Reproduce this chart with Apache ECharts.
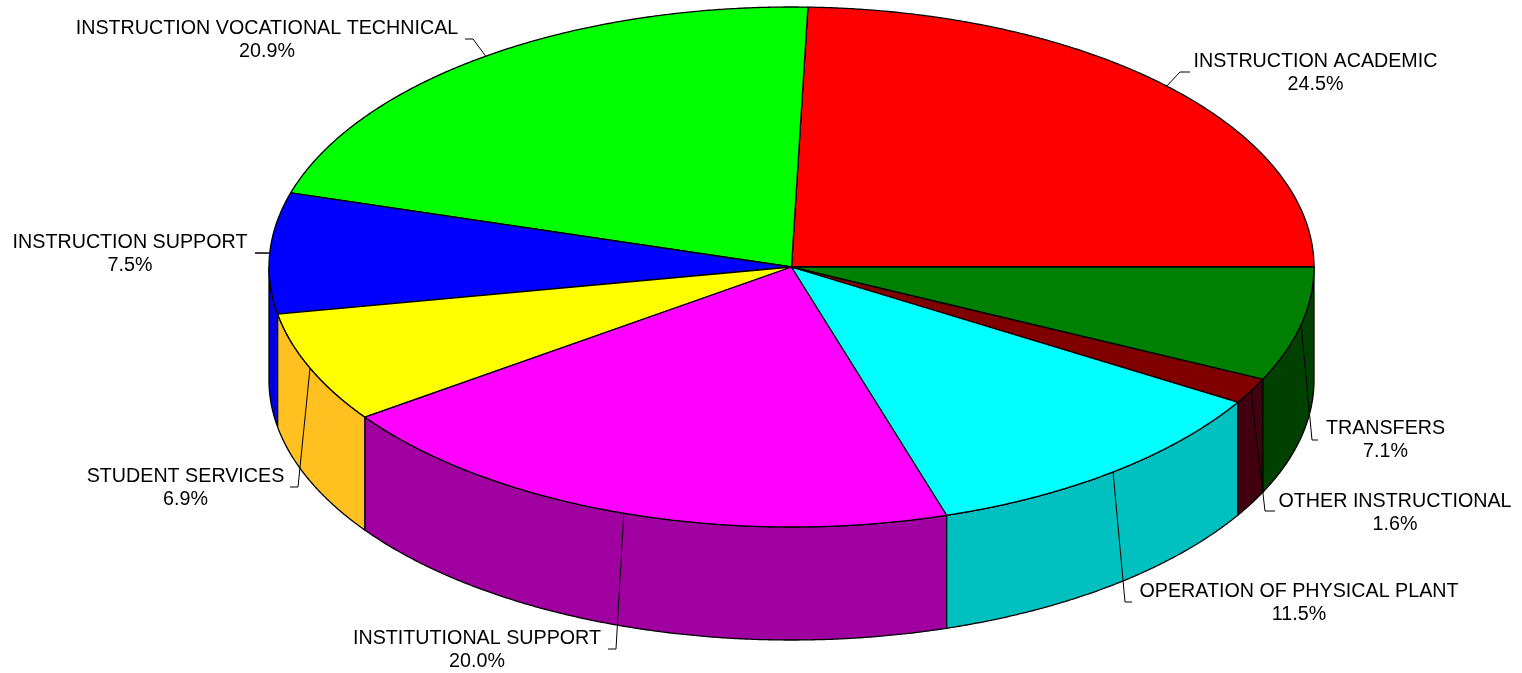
<!DOCTYPE html>
<html>
<head>
<meta charset="utf-8">
<style>html,body{margin:0;padding:0;background:#fff}#chart{width:1522px;height:673px}</style>
<script src="https://cdn.jsdelivr.net/npm/echarts@6/dist/echarts.min.js"></script>
</head>
<body>
<div id="chart"></div>
<script>
const categories = ['INSTRUCTION ACADEMIC','INSTRUCTION VOCATIONAL TECHNICAL','INSTRUCTION SUPPORT','STUDENT SERVICES','INSTITUTIONAL SUPPORT','OPERATION OF PHYSICAL PLANT','OTHER INSTRUCTIONAL','TRANSFERS'];
const percentages = [24.5,20.9,7.5,6.9,20.0,11.5,1.6,7.1];
const topColors = ['#ff0000','#00ff00','#0000ff','#ffff00','#ff00ff','#00ffff','#800000','#008000'];
const sideColors = ['#c00000','#00c000','#0000e0','#ffc020','#a000a0','#00c0c0','#400010','#004000'];
// leader elbow [x, y], leader end x, label centre [x, y]
const elbows = [[1180,72],[473,39],[255,253],[298,487],[616,649],[1125,602],[1265,511],[1312,440]];
const leaderEnds = [1190,465,269,290,608,1132,1275,1318];
const labelCentres = [[1315.5,73.5],[267,40.5],[130,254.5],[185.5,488],[477,650.5],[1299,603],[1395,513],[1385.5,440.5]];

const CX = 791.5, CY = 267, RX = 522.5, RY = 260, DEPTH = 113;
const total = percentages.reduce((a,b)=>a+b,0);
const toAngle = p => p / total * Math.PI * 2;
const pt = (t, dy) => [CX + RX*Math.cos(t), CY - RY*Math.sin(t) + (dy||0)];
function arc(a0, a1, dy){
  const n = Math.max(2, Math.ceil(Math.abs(a1-a0)/0.005));
  const out = [];
  for(let i=0;i<=n;i++) out.push(pt(a0+(a1-a0)*i/n, dy));
  return out;
}

function renderItem(params, api){
  const i = params.dataIndex;
  let before = 0;
  for(let k=0;k<i;k++) before += percentages[k];
  const value = api.value(0);
  const a0 = toAngle(before), a1 = toAngle(before+value), mid = (a0+a1)/2;
  const children = [];
  const s0 = Math.max(a0, Math.PI), s1 = Math.max(a1, Math.PI);
  if(s1 > s0){
    const up = arc(s0,s1,0), down = arc(s1,s0,DEPTH);
    children.push({type:'polygon',z2:1,shape:{points:up.concat(down)},
      style:{fill:sideColors[i],stroke:'#000',lineWidth:1.3,lineJoin:'round'}});
  }
  children.push({type:'polygon',z2:2,shape:{points:[[CX,CY]].concat(arc(a0,a1,0))},
    style:{fill:topColors[i],stroke:'#000',lineWidth:1.3,lineJoin:'round'}});
  const e = elbows[i];
  children.push({type:'polyline',z2:3,shape:{points:[pt(mid,0),e,[leaderEnds[i],e[1]]]},
    style:{fill:null,stroke:'#000',lineWidth:1}});
  children.push({type:'text',z2:4,x:labelCentres[i][0],y:labelCentres[i][1],
    style:{text:categories[i]+'\n'+value.toFixed(1)+'%',fill:'#000',align:'center',verticalAlign:'middle',
      font:'19.7px "Liberation Sans", Arial, sans-serif',lineHeight:23}});
  return {type:'group',children};
}

const chart = echarts.init(document.getElementById('chart'),null,{renderer:'canvas',width:1522,height:673});
chart.setOption({
  animation:false,
  backgroundColor:'#fff',
  series:[{type:'custom',coordinateSystem:'none',silent:true,renderItem,
    data:percentages.map((v,i)=>({name:categories[i],value:[v]}))}]
});
</script>
</body>
</html>
